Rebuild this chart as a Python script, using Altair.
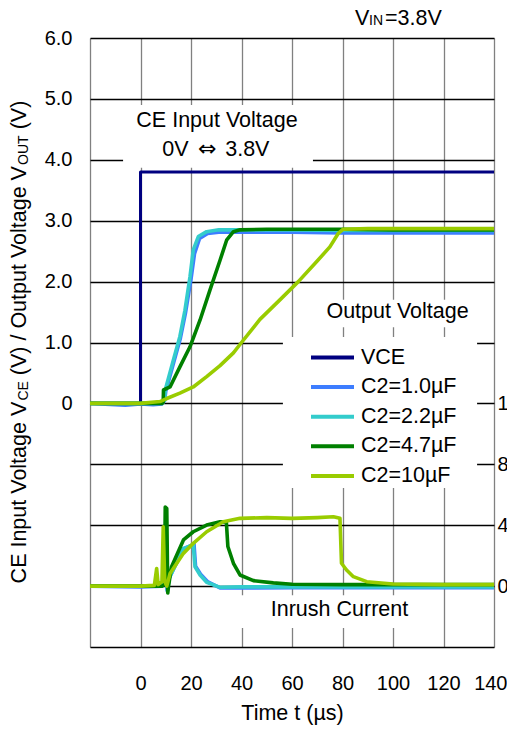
import altair as alt
import pandas as pd

FONT = "Liberation Sans"

series_names = ["VCE", "C2=1.0µF", "C2=2.2µF", "C2=4.7µF", "C2=10µF"]
series_colors = ["#000080", "#3d7dff", "#33cccc", "#008000", "#99cc00"]

# ---- Voltage curves (t in µs, V) ----
vce_t = [-20, 0, 0, 140]
vce_v = [0.0, 0.0, 3.8, 3.8]

c1_t = [-20, -6, 0, 5, 8.5, 9.6, 10.0, 13.2, 15.8, 17.8, 20.0, 21.4, 23.4, 26.6, 31, 40, 60, 80, 100, 120, 140]
c1_v = [0.0, -0.03, -0.01, -0.02, -0.01, 0.05, 0.2, 0.68, 1.07, 1.48, 2.04, 2.46, 2.71, 2.79, 2.81, 2.81, 2.81, 2.80, 2.80, 2.80, 2.80]

c2_t = [-20, 0, 8.5, 9.5, 9.8, 13, 15.6, 17.6, 19.6, 20.9, 22.9, 26.2, 31, 40, 60, 80, 100, 120, 140]
c2_v = [0.0, 0.0, 0.0, 0.05, 0.22, 0.71, 1.10, 1.53, 2.08, 2.52, 2.74, 2.82, 2.85, 2.85, 2.85, 2.84, 2.84, 2.84, 2.84]

c3_t = [-20, 0, 8.5, 9.0, 9.1, 11.7, 15.6, 19.6, 23.6, 27.5, 31.5, 34.1, 36.8, 39.4, 50, 60, 80, 100, 120, 140]
c3_v = [0.0, 0.0, 0.0, 0.02, 0.22, 0.27, 0.60, 0.93, 1.37, 1.86, 2.35, 2.68, 2.82, 2.85, 2.86, 2.86, 2.86, 2.85, 2.85, 2.85]

c4_t = [-20, 0, 7.7, 10.4, 15.6, 20.9, 26.2, 31.5, 36.8, 40, 47.3, 55.2, 62.5, 69.8, 75, 78.3, 80.3, 90, 100, 120, 140]
c4_v = [0.0, 0.0, 0.03, 0.08, 0.17, 0.27, 0.44, 0.62, 0.83, 1.0, 1.38, 1.70, 2.0, 2.33, 2.57, 2.79, 2.86, 2.87, 2.87, 2.87, 2.87]

# ---- Inrush current curves (t in µs, mA) ----
i1_t = [-20, 0, 8.5, 9.1, 9.6, 10.1, 10.6, 11.3, 17.0, 21.2, 21.8, 23.8, 26.5, 31.5, 40, 60, 80, 100, 120, 140]
i1_i = [0, -0.5, 0, 2, 30, 3, -3, 5, 24.5, 27.5, 13, 7.8, 3, -1.2, -1.2, -1, -1, -1, -1, -1]

i2_t = [-20, 0, 8.5, 9.2, 9.7, 10.2, 10.7, 11.3, 17.0, 20.9, 21.6, 23.6, 26.2, 31.5, 40, 60, 80, 100, 120, 140]
i2_i = [0, 0, 0, 2, 36, 4, -3, 5, 24.8, 27, 12.7, 7.3, 2.5, -0.8, -0.5, -0.5, -0.5, -0.5, -0.5, -0.5]

i3_t = [-20, 0, 8.5, 9.5, 9.8, 10.4, 10.8, 11.1, 12.3, 17.0, 20.9, 26.2, 31.5, 34.0, 34.6, 36.8, 39.4, 44.7, 52.6, 60, 80, 100, 120, 140]
i3_i = [0, 0, 0, 1, 52, 51, -4.5, 0, 12.7, 30.3, 35.7, 40.1, 42.3, 42, 26, 15, 7.3, 3.6, 2.1, 1.2, 1, 1, 1, 1]

i4_t = [-20, 0, 5.5, 6.4, 7.0, 8.5, 9.0, 9.6, 10.4, 11.7, 17.0, 20.9, 26.2, 32.8, 39.4, 50, 60, 70, 76.4, 79.0, 79.6, 81.6, 84.3, 89.6, 100, 120, 140]
i4_i = [0, 0, 0.5, 11.6, 1, 3, 39, 3, 0, 8.3, 21.5, 28.1, 35.7, 42.3, 44.5, 45, 44.5, 45, 45.5, 44.5, 15, 10.6, 6.2, 2.9, 1.4, 1, 1]

# ---- annotation texts / boxes (data coordinates) ----
note_labels = ["CE Input Voltage", "0V", "3.8V", "Output Voltage", "Inrush Current"]
note_t = [30.3, 13.8, 42.3, 101.8, 78.8]
note_v = [4.63, 4.16, 4.16, 1.50, -3.40]
arrow_label = ["⇔"]
arrow_t = [26.4]
arrow_v = [4.17]

box_t1 = [-6.9, 68.0, 56.4, 37.8]
box_t2 = [68.3, 133.7, 133.3, 110.7]
box_v1 = [3.87, 1.25, -1.39, -3.69]
box_v2 = [4.90, 1.70, 1.09, -3.15]

x_ticks = list(range(-20, 141, 20))
yv_ticks = list(range(-4, 7))
yi_ticks = [0, 40, 80, 120]

# ---- build tables ----
rows_v = []
for name, ts, vs in zip(series_names, [vce_t, c1_t, c2_t, c3_t, c4_t], [vce_v, c1_v, c2_v, c3_v, c4_v]):
    for k, (t, v) in enumerate(zip(ts, vs)):
        rows_v.append({"series": name, "t": t, "v": v, "idx": k})
df_v = pd.DataFrame(rows_v)

rows_i = []
for name, ts, cs in zip(series_names[1:], [i1_t, i2_t, i3_t, i4_t], [i1_i, i2_i, i3_i, i4_i]):
    for k, (t, c) in enumerate(zip(ts, cs)):
        rows_i.append({"series": name, "t": t, "i": c, "idx": k})
df_i = pd.DataFrame(rows_i)

df_notes = pd.DataFrame({"t": note_t, "v": note_v, "label": note_labels})
df_arrow = pd.DataFrame({"t": arrow_t, "v": arrow_v, "label": arrow_label})
df_boxes = pd.DataFrame({"t1": box_t1, "t2": box_t2, "v1": box_v1, "v2": box_v2})
df_one = pd.DataFrame({"k": [0]})

x_scale = alt.Scale(domain=[-20, 140], nice=False, zero=False)
yv_scale = alt.Scale(domain=[-4, 6], nice=False, zero=False)
yi_scale = alt.Scale(domain=[-40, 360], nice=False, zero=False)
color_scale = alt.Scale(domain=series_names, range=series_colors)

x_axis = alt.Axis(values=x_ticks, labelExpr="datum.value < 0 ? '' : datum.label",
                  grid=True, gridColor="#808080", gridWidth=1.3, ticks=False, tickSize=0,
                  domain=False, labelPadding=26, labelFontSize=20, labelFont=FONT,
                  labelFlush=True, labelFlushOffset=13, labelOverlap=False,
                  labelColor="#000", title="Time t (µs)", titleFontSize=21.5,
                  titleFont=FONT, titleFontWeight="normal", titleColor="#000", titlePadding=9)
yv_axis = alt.Axis(values=yv_ticks,
                   labelExpr="datum.value < 0 ? '' : (datum.value == 0 ? '0' : format(datum.value, '.1f'))",
                   grid=True, gridColor="#000000", gridWidth=1.3, ticks=False, tickSize=0,
                   domain=False, labelPadding=18, labelFontSize=20, labelFont=FONT,
                   labelFlush=False, labelOverlap=False,
                   labelColor="#000", title=None)
yi_axis = alt.Axis(orient="right", values=yi_ticks, grid=False, ticks=False, tickSize=0,
                   domain=False, labelPadding=3, labelFontSize=20, labelFont=FONT,
                   labelFlush=False, labelOverlap=False,
                   labelColor="#000", labelAlign="left", title=None)

legend = alt.Legend(orient="none", legendX=219, legendY=309, title=None,
                    symbolType="stroke", symbolSize=1849, symbolStrokeWidth=4,
                    labelFontSize=21.5, labelFont=FONT, labelColor="#000",
                    clipHeight=21, rowPadding=7.6, labelOffset=5, padding=0)

boxes = alt.Chart(df_boxes).mark_rect(fill="white", stroke=None).encode(
    x=alt.X("t1:Q", scale=x_scale, axis=x_axis),
    x2="t2:Q",
    y=alt.Y("v1:Q", scale=yv_scale, axis=yv_axis),
    y2="v2:Q",
)

v_layers = []
for name in series_names:
    sw = 3 if name == "VCE" else 3.6
    v_layers.append(
        alt.Chart(df_v).transform_filter(alt.datum.series == name)
        .mark_line(strokeWidth=sw, strokeJoin="round")
        .encode(
            x=alt.X("t:Q", scale=x_scale, axis=x_axis),
            y=alt.Y("v:Q", scale=yv_scale, axis=yv_axis),
            color=alt.Color("series:N", scale=color_scale, legend=legend),
            order=alt.Order("idx:Q"),
        )
    )

notes = alt.Chart(df_notes).mark_text(font=FONT, fontSize=21.5, color="#000",
                                      align="center", baseline="middle").encode(
    x=alt.X("t:Q", scale=x_scale, axis=x_axis),
    y=alt.Y("v:Q", scale=yv_scale, axis=yv_axis),
    text="label:N",
)
arrow = alt.Chart(df_arrow).mark_text(font="DejaVu Sans", fontSize=22, color="#000",
                                      align="center", baseline="middle").encode(
    x=alt.X("t:Q", scale=x_scale, axis=x_axis),
    y=alt.Y("v:Q", scale=yv_scale, axis=yv_axis),
    text="label:N",
)


def txt(s, x, y, size, angle=0, align="left"):
    return alt.Chart(df_one).mark_text(font=FONT, fontSize=size, color="#000", angle=angle,
                                       align=align, baseline="alphabetic").encode(
        x=alt.value(x), y=alt.value(y), text=alt.value(s))


# y-axis title with subscripts (rotated pieces) and the V_IN label
title_parts = [
    txt("CE Input Voltage V", -64.5, 545.4, 21.5, 270),
    txt("CE", -62.0, 362.6, 14, 270),
    txt("(V) / Output Voltage V", -64.5, 337.2, 21.5, 270),
    txt("OUT", -62.0, 126.9, 14, 270),
    txt("(V)", -64.5, 91.3, 21.5, 270),
    txt("V", 265, -13, 21.5),
    txt("IN", 279, -13, 14),
    txt("=3.8V", 295, -13, 21.5),
]

inner = alt.layer(boxes, *v_layers, notes, arrow, *title_parts)

i_layers = []
for name in series_names[1:]:
    i_layers.append(
        alt.Chart(df_i).transform_filter(alt.datum.series == name)
        .mark_line(strokeWidth=3.6, strokeJoin="round")
        .encode(
            x=alt.X("t:Q", scale=x_scale, axis=x_axis),
            y=alt.Y("i:Q", scale=yi_scale, axis=yi_axis),
            color=alt.Color("series:N", scale=color_scale, legend=legend),
            order=alt.Order("idx:Q"),
        )
    )
inrush = alt.layer(*i_layers)

chart = alt.layer(inner, inrush).resolve_scale(y="independent").properties(
    width=404, height=609,
    autosize=alt.AutoSizeParams(type="none"),
    padding={"left": 82, "top": 30, "right": 13, "bottom": 78},
).configure_view(stroke="#000000", strokeWidth=1.5).configure(font=FONT, background="white")

chart.save("out.html", embed_options={"renderer": "svg", "actions": False})
